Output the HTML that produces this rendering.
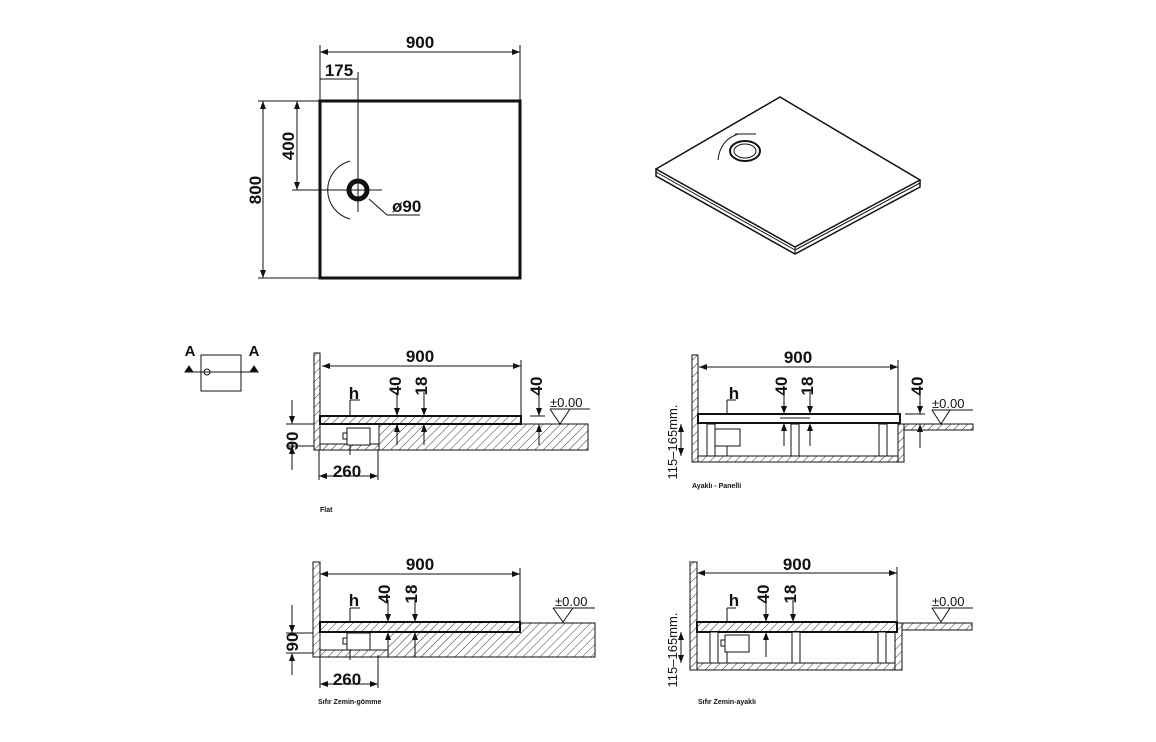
<!DOCTYPE html>
<html><head><meta charset="utf-8"><style>
html,body{margin:0;padding:0;background:#fff}
svg{display:block}
text{font-family:"Liberation Sans",sans-serif;font-weight:bold;fill:#111}
</style></head><body>
<svg width="1156" height="742" viewBox="0 0 1156 742" xmlns="http://www.w3.org/2000/svg">
<defs>
<pattern id="h" width="6" height="6" patternUnits="userSpaceOnUse" patternTransform="rotate(45)">
<rect width="6" height="6" fill="#fff"/><line x1="0" y1="0" x2="0" y2="6" stroke="#333" stroke-width="1"/>
</pattern>
<marker id="a" markerWidth="8" markerHeight="6" refX="8" refY="3" orient="auto-start-reverse" markerUnits="userSpaceOnUse"><path d="M0,0 L8,3 L0,6z" fill="#111"/></marker>
</defs>
<g stroke="#111" fill="none" stroke-width="1">
<rect x="320" y="101" width="200" height="177" stroke-width="3"/>
<line x1="320" y1="52" x2="520" y2="52" marker-start="url(#a)" marker-end="url(#a)"/>
<line x1="320" y1="45" x2="320" y2="101"/><line x1="520" y1="45" x2="520" y2="101"/>
<line x1="320" y1="79" x2="358" y2="79"/><line x1="358" y1="72" x2="358" y2="212"/>
<line x1="297" y1="101" x2="297" y2="190" marker-start="url(#a)" marker-end="url(#a)"/>
<line x1="290" y1="101" x2="320" y2="101"/><line x1="292" y1="190" x2="382" y2="190"/>
<line x1="263" y1="101" x2="263" y2="278" marker-start="url(#a)" marker-end="url(#a)"/>
<line x1="258" y1="101" x2="290" y2="101"/><line x1="258" y1="278" x2="320" y2="278"/>
<circle cx="358" cy="190" r="9" stroke-width="5"/>
<path d="M350,161 A30,30 0 0 0 350,219"/>
<path d="M369,199 L387,215 L420,215"/>
<polygon points="656,169 780,97 920,180 795,247" fill="#fff" stroke-width="1.5"/>
<polyline points="656,169 656,176 795,254 920,187 920,180" stroke-width="1.5"/>
<line x1="656" y1="172" x2="795" y2="250"/><line x1="795" y1="250" x2="920" y2="183"/>
<line x1="795" y1="247" x2="795" y2="254"/>
<ellipse cx="745" cy="151" rx="15" ry="10" stroke-width="2"/><ellipse cx="745" cy="151" rx="11" ry="7"/>
<path d="M738,134 Q720,140 718,160"/><line x1="735" y1="134" x2="756" y2="134"/>
<rect x="201" y="355" width="40" height="36"/><line x1="185" y1="372" x2="258" y2="372"/>
<circle cx="207" cy="372" r="3"/>
<path d="M185,372 l4,-6 l4,6z M250,372 l4,-6 l4,6z" fill="#111"/>
<rect x="314" y="353" width="6" height="97" fill="url(#h)"/>
<rect x="379" y="424" width="209" height="26" fill="url(#h)"/>
<rect x="320" y="444" width="59" height="6" fill="url(#h)"/>
<rect x="320" y="416" width="201" height="8" fill="url(#h)" stroke-width="2"/>
<line x1="320" y1="424" x2="588" y2="424"/>
<rect x="347" y="428" width="23" height="17" fill="#fff"/><rect x="343" y="433" width="4" height="6"/>
<line x1="322" y1="366" x2="521" y2="366" marker-start="url(#a)" marker-end="url(#a)"/><line x1="521" y1="360" x2="521" y2="416"/>
<line x1="319" y1="476" x2="378" y2="476" marker-start="url(#a)" marker-end="url(#a)"/><line x1="378" y1="450" x2="378" y2="480"/><line x1="319" y1="450" x2="319" y2="480"/>
<line x1="292" y1="400" x2="292" y2="424" marker-end="url(#a)"/><line x1="292" y1="470" x2="292" y2="446" marker-end="url(#a)"/>
<line x1="286" y1="424" x2="314" y2="424"/><line x1="286" y1="446" x2="314" y2="446"/>
<polyline points="350,400 350,416"/><line x1="350" y1="400" x2="360" y2="400"/><line x1="350" y1="445" x2="350" y2="455"/>
<line x1="397" y1="392" x2="397" y2="416" marker-end="url(#a)"/><line x1="397" y1="445" x2="397" y2="424" marker-end="url(#a)"/>
<line x1="424" y1="392" x2="424" y2="416" marker-end="url(#a)"/><line x1="424" y1="445" x2="424" y2="424" marker-end="url(#a)"/>
<line x1="539" y1="392" x2="539" y2="416" marker-end="url(#a)"/><line x1="539" y1="445" x2="539" y2="424" marker-end="url(#a)"/><line x1="530" y1="416" x2="545" y2="416"/>
<line x1="550" y1="409" x2="590" y2="409"/><path d="M550,409 L560,424 L570,409"/>
<rect x="692" y="355" width="6" height="107" fill="url(#h)"/>
<rect x="698" y="456" width="205" height="6" fill="url(#h)"/>
<rect x="898" y="424" width="6" height="38" fill="url(#h)"/>
<rect x="904" y="424" width="69" height="6" fill="url(#h)"/>
<rect x="698" y="414" width="202" height="9" fill="#fff" stroke-width="2"/>
<line x1="780" y1="418" x2="810" y2="418"/>
<rect x="712" y="429" width="28" height="17" fill="#fff"/><rect x="708" y="434" width="4" height="6"/>
<g fill="#fff"><rect x="707" y="424" width="8" height="32"/><rect x="791" y="424" width="8" height="32"/><rect x="879" y="424" width="8" height="32"/></g>
<line x1="699" y1="367" x2="898" y2="367" marker-start="url(#a)" marker-end="url(#a)"/><line x1="898" y1="360" x2="898" y2="414"/>
<line x1="681" y1="424" x2="681" y2="456" marker-start="url(#a)" marker-end="url(#a)"/>
<line x1="727" y1="400" x2="727" y2="414"/><line x1="727" y1="400" x2="736" y2="400"/><line x1="727" y1="446" x2="727" y2="456"/>
<line x1="784" y1="392" x2="784" y2="414" marker-end="url(#a)"/><line x1="784" y1="446" x2="784" y2="423" marker-end="url(#a)"/>
<line x1="810" y1="392" x2="810" y2="414" marker-end="url(#a)"/><line x1="810" y1="446" x2="810" y2="423" marker-end="url(#a)"/>
<line x1="920" y1="392" x2="920" y2="414" marker-end="url(#a)"/><line x1="920" y1="448" x2="920" y2="424" marker-end="url(#a)"/><line x1="905" y1="414" x2="925" y2="414"/>
<line x1="932" y1="410" x2="973" y2="410"/><path d="M932,410 L941,424 L950,410"/>
<rect x="313" y="562" width="7" height="95" fill="url(#h)"/>
<rect x="388" y="623" width="207" height="34" fill="url(#h)"/>
<rect x="320" y="650" width="68" height="7" fill="url(#h)"/>
<rect x="320" y="622" width="200" height="10" fill="url(#h)" stroke-width="2"/>
<rect x="347" y="633" width="23" height="17" fill="#fff"/><rect x="343" y="638" width="4" height="6"/>
<line x1="320" y1="574" x2="520" y2="574" marker-start="url(#a)" marker-end="url(#a)"/><line x1="520" y1="568" x2="520" y2="622"/>
<line x1="320" y1="684" x2="378" y2="684" marker-start="url(#a)" marker-end="url(#a)"/><line x1="378" y1="655" x2="378" y2="688"/><line x1="320" y1="657" x2="320" y2="688"/>
<line x1="292" y1="605" x2="292" y2="633" marker-end="url(#a)"/><line x1="292" y1="675" x2="292" y2="653" marker-end="url(#a)"/>
<line x1="286" y1="633" x2="313" y2="633"/><line x1="286" y1="653" x2="313" y2="653"/>
<line x1="350" y1="608" x2="350" y2="622"/><line x1="350" y1="608" x2="360" y2="608"/><line x1="350" y1="650" x2="350" y2="660"/>
<line x1="388" y1="600" x2="388" y2="622" marker-end="url(#a)"/><line x1="388" y1="657" x2="388" y2="632" marker-end="url(#a)"/>
<line x1="415" y1="600" x2="415" y2="622" marker-end="url(#a)"/><line x1="415" y1="657" x2="415" y2="632" marker-end="url(#a)"/>
<line x1="553" y1="608" x2="595" y2="608"/><path d="M553,608 L563,622 L573,608"/>
<rect x="690" y="562" width="7" height="108" fill="url(#h)"/>
<rect x="697" y="663" width="205" height="7" fill="url(#h)"/>
<rect x="895" y="623" width="7" height="47" fill="url(#h)"/>
<rect x="902" y="623" width="70" height="7" fill="url(#h)"/>
<rect x="697" y="622" width="200" height="10" fill="url(#h)" stroke-width="2"/>
<rect x="725" y="635" width="24" height="17" fill="#fff"/><rect x="721" y="640" width="4" height="6"/>
<g fill="#fff"><rect x="710" y="632" width="8" height="31"/><rect x="792" y="632" width="8" height="31"/><rect x="878" y="632" width="8" height="31"/></g>
<line x1="697" y1="573" x2="897" y2="573" marker-start="url(#a)" marker-end="url(#a)"/><line x1="897" y1="567" x2="897" y2="622"/>
<line x1="681" y1="632" x2="681" y2="663" marker-start="url(#a)" marker-end="url(#a)"/>
<line x1="727" y1="608" x2="727" y2="622"/><line x1="727" y1="608" x2="736" y2="608"/><line x1="727" y1="652" x2="727" y2="663"/>
<line x1="766" y1="600" x2="766" y2="622" marker-end="url(#a)"/><line x1="766" y1="657" x2="766" y2="632" marker-end="url(#a)"/>
<line x1="793" y1="600" x2="793" y2="622" marker-end="url(#a)"/>
<line x1="932" y1="608" x2="973" y2="608"/><path d="M932,608 L941,622 L950,608"/>
</g>
<g font-size="17">
<text x="420" y="48" text-anchor="middle">900</text>
<text x="339" y="76" text-anchor="middle">175</text>
<text x="294" y="146" text-anchor="middle" transform="rotate(-90 294 146)">400</text>
<text x="261" y="190" text-anchor="middle" transform="rotate(-90 261 190)">800</text>
<text x="392" y="212">ø90</text>
<text x="190" y="356" text-anchor="middle" font-size="15">A</text>
<text x="254" y="356" text-anchor="middle" font-size="15">A</text>
<text x="420" y="362" text-anchor="middle">900</text>
<text x="798" y="363" text-anchor="middle">900</text>
<text x="420" y="570" text-anchor="middle">900</text>
<text x="797" y="570" text-anchor="middle">900</text>
<text x="347" y="477" text-anchor="middle">260</text>
<text x="347" y="685" text-anchor="middle">260</text>
<text x="354" y="399" text-anchor="middle">h</text>
<text x="734" y="399" text-anchor="middle">h</text>
<text x="354" y="606" text-anchor="middle">h</text>
<text x="734" y="606" text-anchor="middle">h</text>
<text x="292" y="441" text-anchor="middle" transform="rotate(-90 292 441)" dy="6">90</text>
<text x="292" y="642" text-anchor="middle" transform="rotate(-90 292 642)" dy="6">90</text>
<text x="395" y="386" text-anchor="middle" transform="rotate(-90 395 386)" dy="6">40</text>
<text x="421" y="386" text-anchor="middle" transform="rotate(-90 421 386)" dy="6">18</text>
<text x="536" y="386" text-anchor="middle" transform="rotate(-90 536 386)" dy="6">40</text>
<text x="781" y="386" text-anchor="middle" transform="rotate(-90 781 386)" dy="6">40</text>
<text x="807" y="386" text-anchor="middle" transform="rotate(-90 807 386)" dy="6">18</text>
<text x="917" y="386" text-anchor="middle" transform="rotate(-90 917 386)" dy="6">40</text>
<text x="384" y="594" text-anchor="middle" transform="rotate(-90 384 594)" dy="6">40</text>
<text x="411" y="594" text-anchor="middle" transform="rotate(-90 411 594)" dy="6">18</text>
<text x="763" y="594" text-anchor="middle" transform="rotate(-90 763 594)" dy="6">40</text>
<text x="790" y="594" text-anchor="middle" transform="rotate(-90 790 594)" dy="6">18</text>
</g>
<g font-size="13">
<text x="550" y="407" style="font-weight:normal">±0.00</text>
<text x="932" y="408" style="font-weight:normal">±0.00</text>
<text x="555" y="606" style="font-weight:normal">±0.00</text>
<text x="932" y="606" style="font-weight:normal">±0.00</text>
<text x="677" y="442" text-anchor="middle" transform="rotate(-90 677 442)" style="font-weight:normal">115–165mm.</text>
<text x="677" y="650" text-anchor="middle" transform="rotate(-90 677 650)" style="font-weight:normal">115–165mm.</text>
</g>
<g font-size="7">
<text x="320" y="512">Flat</text>
<text x="692" y="488">Ayaklı - Panelli</text>
<text x="318" y="704">Sıfır Zemin-gömme</text>
<text x="698" y="704">Sıfır Zemin-ayaklı</text>
</g>
</svg>
</body></html>
